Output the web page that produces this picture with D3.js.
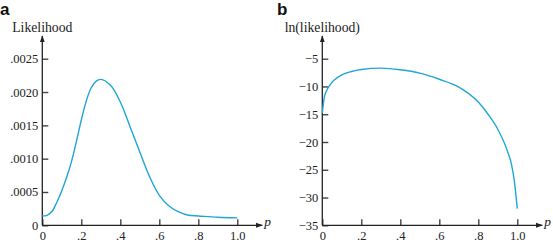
<!DOCTYPE html>
<html>
<head>
<meta charset="utf-8">
<script src="https://cdn.jsdelivr.net/npm/d3@7"></script>
<style>
  body { margin: 0; background: #fff; }
</style>
</head>
<body>
<script>
// values
const pValues = [0, 0.025, 0.05, 0.075, 0.10, 0.125, 0.15, 0.175, 0.20, 0.225, 0.25, 0.275,
                 0.30, 0.35, 0.40, 0.45, 0.50, 0.55, 0.60, 0.65, 0.70, 0.75, 0.80, 0.90, 1.00];
const likelihood = [0.00014, 0.00015, 0.00021, 0.00035, 0.00052, 0.00072, 0.00096, 0.00126,
                    0.00158, 0.00186, 0.00206, 0.00216, 0.00219, 0.00210, 0.00185, 0.00148,
                    0.00110, 0.00073, 0.00045, 0.00029, 0.00020, 0.00015, 0.00014, 0.00012,
                    0.000112];

const pLog = [0, 0.01, 0.02, 0.04, 0.06, 0.10, 0.15, 0.20, 0.30, 0.40, 0.50,
              0.60, 0.70, 0.80, 0.85, 0.90, 0.95, 0.97, 0.985, 1.00];
const logLikelihood = [-14.8, -12.0, -10.9, -9.7, -8.9, -7.9, -7.3, -6.95, -6.7, -7.0,
                       -7.6, -8.7, -10.1, -12.8, -15.0, -17.7, -21.7, -24.0, -27.1, -32.0];

const xTicks = [0, 0.2, 0.4, 0.6, 0.8, 1.0];
const xTickLabels = ["0", ".2", ".4", ".6", ".8", "1.0"];
const yTicksA = [0, 0.0005, 0.0010, 0.0015, 0.0020, 0.0025];
const yTickLabelsA = ["0", ".0005", ".0010", ".0015", ".0020", ".0025"];
const yTicksB = [-35, -30, -25, -20, -15, -10, -5];

const W = 553, H = 243;
const lineColor = "#1fa6d6";
const serif = '"Liberation Serif", "Times New Roman", serif';

const svg = d3.select("body").append("svg")
    .attr("width", W)
    .attr("height", H);

// arrowhead for axes
svg.append("defs").append("marker")
    .attr("id", "arrow")
    .attr("viewBox", "0 0 10 10")
    .attr("refX", 9).attr("refY", 5)
    .attr("markerWidth", 7).attr("markerHeight", 7)
    .attr("markerUnits", "userSpaceOnUse")
    .attr("orient", "auto")
  .append("path")
    .attr("d", "M0,1.5 L10,5 L0,8.5 Z")
    .attr("fill", "#222");

function drawPanel(opts) {
  const x = d3.scaleLinear().domain([0, 1]).range([opts.left, opts.left + 195]);
  const y = d3.scaleLinear().domain(opts.yDomain).range([225.3, 58.7]);

  const g = svg.append("g");

  // x axis
  const xAxis = g.append("g")
      .attr("transform", `translate(0,${y.range()[0]})`)
      .call(d3.axisBottom(x)
        .tickValues(xTicks)
        .tickSizeInner(-6)
        .tickSizeOuter(0)
        .tickPadding(6)
        .tickFormat((d, i) => xTickLabels[i]));
  xAxis.select(".domain").remove();
  xAxis.selectAll(".tick line").attr("stroke", "#444").attr("stroke-width", 1.4);
  xAxis.selectAll(".tick text")
      .style("font-family", serif).style("font-size", "12.5px").attr("fill", "#222");

  // y axis
  const yAxis = g.append("g")
      .attr("transform", `translate(${opts.left},0)`)
      .call(d3.axisLeft(y)
        .tickValues(opts.yTicks)
        .tickSizeInner(-6)
        .tickSizeOuter(0)
        .tickPadding(4)
        .tickFormat(opts.yFormat));
  yAxis.select(".domain").remove();
  yAxis.selectAll(".tick line").attr("stroke", "#444").attr("stroke-width", 1.4);
  yAxis.selectAll(".tick text")
      .style("font-family", serif).style("font-size", "12.5px").attr("fill", "#222");

  // axis lines with arrows
  g.append("line")
      .attr("x1", opts.left).attr("x2", opts.left + 220)
      .attr("y1", y.range()[0]).attr("y2", y.range()[0])
      .attr("stroke", "#222").attr("stroke-width", 1.3)
      .attr("marker-end", "url(#arrow)");
  g.append("line")
      .attr("x1", opts.left).attr("x2", opts.left)
      .attr("y1", y.range()[0]).attr("y2", 36)
      .attr("stroke", "#222").attr("stroke-width", 1.3)
      .attr("marker-end", "url(#arrow)");

  // axis titles
  g.append("text")
      .attr("x", opts.left + 222).attr("y", 226)
      .style("font-family", serif)
      .style("font-size", "13.5px").style("font-style", "italic")
      .attr("fill", "#222")
      .text("p");
  g.append("text")
      .attr("x", opts.left).attr("y", 32)
      .attr("text-anchor", "middle")
      .style("font-family", serif)
      .style("font-size", "13.7px")
      .attr("fill", "#222")
      .text(opts.title);

  // panel letter
  svg.append("text")
      .attr("x", opts.letterX).attr("y", 15)
      .style("font-family", '"Liberation Sans", Arial, sans-serif')
      .style("font-weight", "bold")
      .style("font-size", "17px")
      .attr("fill", "#111")
      .text(opts.letter);

  // curve
  const line = d3.line()
      .x(d => x(d[0]))
      .y(d => y(d[1]))
      .curve(opts.curve);
  g.append("path")
      .datum(d3.zip(opts.px, opts.py))
      .attr("d", line)
      .attr("fill", "none")
      .attr("stroke", lineColor)
      .attr("stroke-width", 1.4);
}

drawPanel({
  left: 42.3,
  yDomain: [0, 0.0025],
  yTicks: yTicksA,
  yFormat: (d, i) => yTickLabelsA[i],
  title: "Likelihood",
  letter: "a",
  letterX: 0,
  px: pValues,
  py: likelihood,
  curve: d3.curveCatmullRom.alpha(0.5)
});

drawPanel({
  left: 322.3,
  yDomain: [-35, -5],
  yTicks: yTicksB,
  yFormat: d3.format("d"),
  title: "ln(likelihood)",
  letter: "b",
  letterX: 277,
  px: pLog,
  py: logLikelihood,
  curve: d3.curveMonotoneX
});
</script>
</body>
</html>
